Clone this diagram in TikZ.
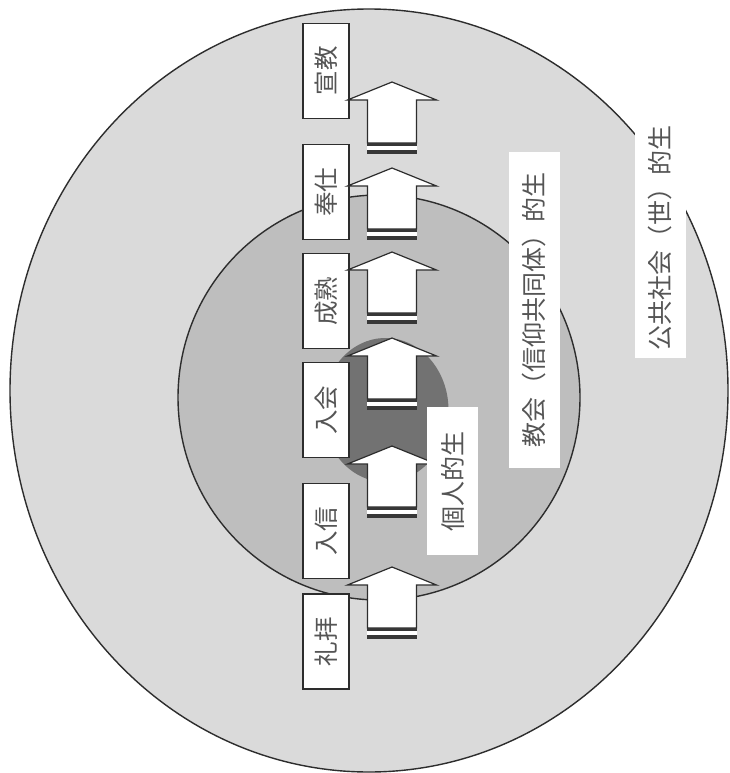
\documentclass[tikz,border=0pt]{standalone}
\usepackage{fontspec}
\newfontfamily\cjk{Noto Sans CJK JP}
\definecolor{outerfill}{RGB}{218,218,218}
\definecolor{midfill}{RGB}{190,190,190}
\definecolor{innerfill}{RGB}{114,114,114}
\definecolor{lineclr}{RGB}{45,45,45}
\definecolor{bandclr}{RGB}{55,55,55}
\definecolor{txtclr}{RGB}{85,85,85}
\begin{document}
\begin{tikzpicture}[x=1pt,y=-1pt,
  ring/.style={draw=lineclr, line width=1.4pt},
  stagebox/.style={draw=lineclr, fill=white, line width=1.3pt, rotate=90,
    minimum width=95pt, minimum height=46pt, inner sep=0pt,
    font=\cjk\fontsize{24.5}{24.5}\selectfont, text=txtclr},
  spherelabel/.style={fill=white, rotate=90, inner sep=0pt, minimum height=51pt,
    font=\cjk\fontsize{25}{25}\selectfont, text=txtclr},
  blockarrow/.pic={
    \draw[draw=lineclr, fill=white, line width=1.2pt, line join=miter]
      (0,0) -- (44.5,18) -- (24.5,18) -- (24.5,61) -- (-24.5,61)
      -- (-24.5,18) -- (-44.5,18) -- cycle;
    \fill[bandclr] (-25,61) rectangle (25,63.5);
    \fill[white] (-25,63.5) rectangle (25,67.5);
    \fill[bandclr] (-25,67.5) rectangle (25,72);
  }
]
\useasboundingbox (0,0) rectangle (729,773);
\fill[white] (0,0) rectangle (729,773);

% spheres
\draw[ring, fill=outerfill] (369,390.5) ellipse [x radius=359pt, y radius=381.5pt];
\draw[ring, fill=midfill] (379,397.5) ellipse [x radius=201pt, y radius=202.5pt];
\fill[innerfill] (385.5,410) ellipse [x radius=63pt, y radius=72pt];

% stage boxes
\node[stagebox] (s6) at (326,71) {宣教};
\node[stagebox] (s5) at (326,192) {奉仕};
\node[stagebox] (s4) at (326,301) {成熟};
\node[stagebox] (s3) at (326,410) {入会};
\node[stagebox] (s2) at (326,531) {入信};
\node[stagebox] (s1) at (326,641.5) {礼拝};

% block arrows
\pic (a6) at (392,82) {blockarrow};
\pic (a5) at (392,168) {blockarrow};
\pic (a4) at (392,252) {blockarrow};
\pic (a3) at (392,338) {blockarrow};
\pic (a2) at (392,446) {blockarrow};
\pic (a1) at (392,567) {blockarrow};

% sphere labels
\node[spherelabel, minimum width=148pt] (lp) at (452.5,481) {個人的生};
\node[spherelabel, minimum width=316pt] (lc) at (534,310) {教会（信仰共同体）的生};
\node[spherelabel, minimum width=240pt] (lw) at (660,238) {公共社会（世）的生};
\end{tikzpicture}
\end{document}
